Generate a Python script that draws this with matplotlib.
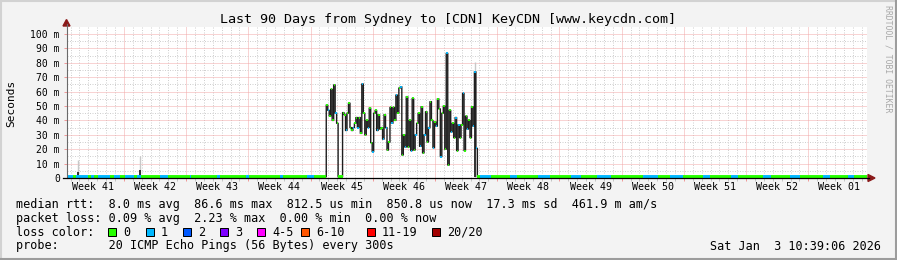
import numpy as np
import matplotlib
matplotlib.use("Agg")
import matplotlib.pyplot as plt
from matplotlib.collections import LineCollection
from matplotlib.patches import Rectangle, Polygon
from matplotlib.lines import Line2D

plt.rcParams['font.family'] = ['DejaVu Sans Mono', 'DejaVu Sans']

title = "Last 90 Days from Sydney to [CDN] KeyCDN [www.keycdn.com]"
week_labels = ["Week 41", "Week 42", "Week 43", "Week 44", "Week 45", "Week 46", "Week 47",
               "Week 48", "Week 49", "Week 50", "Week 51", "Week 52", "Week 01"]
first_monday = 6.4      # days after graph start
span_days = 90
bin_hours = 4

# median rtt in ms, baseline is flat most of the time
baseline_ms = 0.85
spike_start_bin = 175
spike_ms = [50.7, 47, 43, 61.6, 40, 64.6, 45, 38, 0.85, 0.85, 0.85, 45.4, 44, 33, 45, 52, 35, 33, 35, 38,
            42, 35, 42, 31, 65.3, 45, 30, 40, 35, 48.6, 24.5, 18.3, 45, 47, 33, 44, 34, 35, 27, 44,
            35, 19.4, 25, 49, 38, 49, 40, 57.6, 45, 62.5, 63.4, 16, 30, 21.5, 56.5, 21.5, 40, 19, 55.3, 19.4,
            30, 38, 45, 22, 49.5, 17.4, 30, 46, 25, 35, 53, 40, 21, 39, 36, 55, 48, 14.8, 45, 50,
            20, 86.6, 9, 47, 32, 38, 28, 42, 19, 37, 28, 37, 58.8, 19, 43, 34, 40, 28, 49.5, 36,
            73.8, 20.6]
spike_loss = [0, 1, 0, 0, 0, 0, 1, 0, 0, 0, 0, 0, 0, 1, 0, 0, 0, 0, 1, 0,
              0, 1, 0, 0, 1, 0, 0, 0, 1, 0, 0, 1, 0, 0, 1, 0, 0, 0, 1, 0,
              1, 0, 0, 0, 1, 0, 0, 1, 0, 0, 1, 0, 0, 1, 0, 0, 0, 1, 0, 0,
              1, 0, 0, 1, 0, 0, 1, 0, 0, 1, 0, 0, 1, 0, 1, 0, 0, 1, 0, 0,
              0, 1, 0, 0, 1, 0, 0, 1, 0, 1, 0, 0, 1, 0, 0, 1, 0, 0, 0, 1,
              1, 1]
# baseline periods with 1 lost ping (days since start)
blue_spans = [(0.0, 0.6), (1.0, 2.2), (2.6, 3.0), (3.4, 4.8), (5.2, 6.0), (6.5, 7.4), (7.8, 8.3),
              (10.5, 11.2), (13.7, 14.0), (16.8, 17.1), (20.1, 20.4), (23.9, 24.2), (27.0, 27.7),
              (46.5, 47.6), (49.8, 50.6), (52.9, 54.3), (56.6, 57.7), (59.6, 61.1), (64.8, 66.4),
              (67.8, 69.3), (71.5, 72.3), (74.6, 75.4), (78.3, 79.1), (81.3, 82.5), (85.0, 85.8),
              (87.7, 88.4)]
# smoke (spread of the pings) where it shows
smoke_bins = [7, 49, 275]
smoke_dark = [4.4, 5.5, 73.8]
smoke_light = [12.5, 15.5, 80.8]

y_ticks = [0, 10, 20, 30, 40, 50, 60, 70, 80, 90, 100]
y_ticklabels = ["0", "10 m", "20 m", "30 m", "40 m", "50 m", "60 m", "70 m", "80 m", "90 m", "100 m"]

loss_labels = ["0", "1", "2", "3", "4-5", "6-10", "11-19", "20/20"]
loss_colors = ["#26ff00", "#00b8ff", "#0059ff", "#7e00ff", "#ff00ff", "#ff5500", "#ff0000", "#a10000"]

legend_rows = ["median rtt:  8.0 ms avg  86.6 ms max  812.5 us min  850.8 us now  17.3 ms sd  461.9 m am/s",
               "packet loss: 0.09 % avg  2.23 % max  0.00 % min  0.00 % now",
               "loss color:",
               "probe:       20 ICMP Echo Pings (56 Bytes) every 300s"]
stamp = "Sat Jan  3 10:39:06 2026"

W, H = 897, 260

def fx(x):
    return x / W

def fy(y):
    return 1 - y / H

# build the series
n_bins = span_days * 24 // bin_hours
t = np.arange(n_bins + 1) * bin_hours / 24.0
med = np.full(n_bins, baseline_ms)
med[spike_start_bin:spike_start_bin + len(spike_ms)] = spike_ms
loss = np.zeros(n_bins, dtype=int)
for a, b in blue_spans:
    loss[(t[:-1] >= a) & (t[:-1] < b)] = 1
loss[spike_start_bin:spike_start_bin + len(spike_loss)] = spike_loss

fig = plt.figure(figsize=(W / 100, H / 100), dpi=100, facecolor="#f3f3f3")
ax = fig.add_axes([fx(67), fy(178), 800 / W, 151 / H])
ax.set_facecolor("white")
ax.set_xlim(0, span_days)
ax.set_ylim(0, 151 / 1.44)

# grid
ax.set_xticks(np.arange(first_monday, span_days, 7))
ax.set_xticks(np.arange(first_monday % 1, span_days, 1), minor=True)
ax.set_yticks(y_ticks)
ax.set_yticks(np.arange(5, 101, 10), minor=True)
ax.set_xticklabels([])
ax.set_yticklabels(y_ticklabels, fontsize=7)
ax.grid(which="minor", color="#d0d0d0", ls=(0, (1, 1.5)), lw=0.72, zorder=0)
ax.grid(which="major", color="#f2a8a8", ls=(0, (1, 1)), lw=0.72, zorder=0)
ax.tick_params(axis="both", which="major", length=2, width=0.72, color="#f19a9a", pad=3.2)
ax.tick_params(axis="both", which="minor", length=2, width=0.72, color="#c4c4c4")
ax.tick_params(axis="y", which="minor", length=0)
for s in ax.spines.values():
    s.set_visible(False)
ax.set_axisbelow(True)

# smoke
mid = t[:-1] + (t[1] - t[0]) / 2
ax.vlines(mid[smoke_bins], baseline_ms, smoke_light, color="#c8c8c8", lw=1.0, zorder=2)
ax.vlines(mid[smoke_bins], baseline_ms, smoke_dark, color="#303030", lw=1.4, zorder=2)

# median line: dark steps, coloured by loss
ax.step(t, np.append(med, med[-1]), where="post", color="#1e1e1e", lw=1.0, zorder=3)
segs = [[(t[i], med[i]), (t[i + 1], med[i])] for i in range(n_bins)]
widths = np.where(med < 2, 2.8, 1.3)
lc = LineCollection(segs, colors=[loss_colors[l] for l in loss], linewidths=widths, capstyle="butt", zorder=4)
ax.add_collection(lc)

# week labels centred in each week
for k, lab in enumerate(week_labels):
    ax.annotate(lab, xy=(first_monday - 3.5 + 7 * k, 0), xycoords=("data", "axes fraction"),
                xytext=(0, -9.3 * 0.72), textcoords="offset points", ha="center", va="center", fontsize=7.2)

# axes with arrows
fig.lines.append(Line2D([fx(66.5), fx(66.5)], [fy(178), fy(24)], color="#6a6a6a", lw=0.8, transform=fig.transFigure))
fig.lines.append(Line2D([fx(63), fx(869)], [fy(178.3), fy(178.3)], color="black", lw=0.9, transform=fig.transFigure, zorder=5))
fig.patches.append(Polygon([(fx(63), fy(26)), (fx(70), fy(26)), (fx(66.5), fy(19.5))], closed=True,
                           color="#8b1a1a", transform=fig.transFigure))
fig.patches.append(Polygon([(fx(868), fy(174.5)), (fx(868), fy(181.5)), (fx(875), fy(178))], closed=True,
                           color="#8b1a1a", transform=fig.transFigure))

# frame
fig.lines.append(Line2D([0, 1], [fy(1), fy(1)], color="#d2d2d2", lw=1.5, transform=fig.transFigure))
fig.lines.append(Line2D([fx(1), fx(1)], [0, 1], color="#d2d2d2", lw=1.5, transform=fig.transFigure))
fig.lines.append(Line2D([0, 1], [fy(259), fy(259)], color="#9c9c9c", lw=1.5, transform=fig.transFigure))
fig.lines.append(Line2D([fx(896), fx(896)], [0, 1], color="#9c9c9c", lw=1.5, transform=fig.transFigure))

# texts
fig.text(fx(448), fy(19), title, ha="center", va="center", fontsize=9.6)
fig.text(fx(11.5), fy(103), "Seconds", rotation=90, ha="center", va="center", fontsize=8)
fig.text(fx(888), fy(59), "RRDTOOL / TOBI OETIKER", rotation=270, ha="center", va="center",
         fontsize=5.9, color="#a8a8a8")

for row, y in zip(legend_rows, [204.3, 218.3, 232.3, 246]):
    fig.text(fx(16), fy(y), row, ha="left", va="center", fontsize=8.5)
fig.text(fx(881), fy(246), stamp, ha="right", va="center", fontsize=8.5)

box_x = [108, 146, 183, 220, 257, 301, 367, 432]
for bx, lab, col in zip(box_x, loss_labels, loss_colors):
    fig.patches.append(Rectangle((fx(bx), fy(236)), 8 / W, 8 / H, facecolor=col, edgecolor="black",
                                 lw=0.72, transform=fig.transFigure))
    fig.text(fx(bx + 15), fy(232.3), lab, ha="left", va="center", fontsize=8.5)

fig.savefig("out.png", dpi=100, facecolor=fig.get_facecolor())
